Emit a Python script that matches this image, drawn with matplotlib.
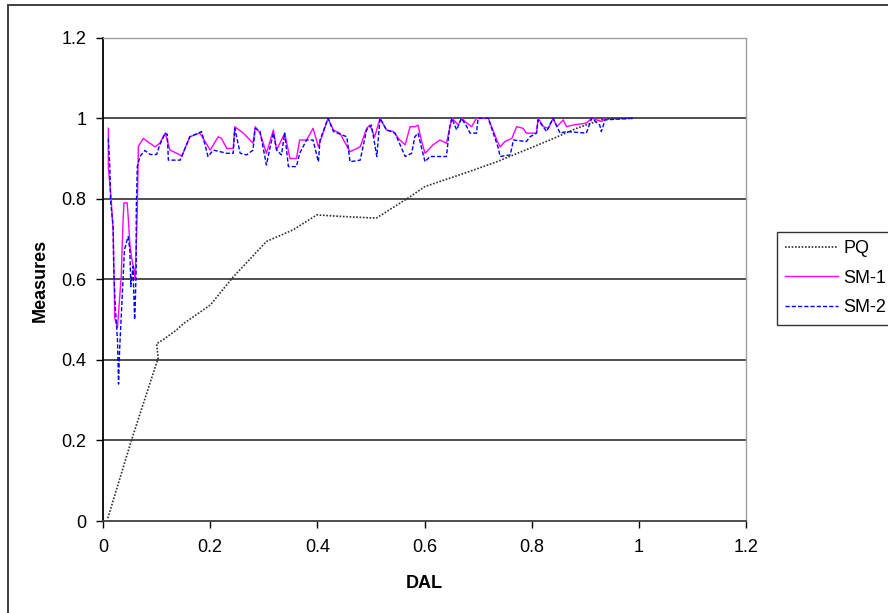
import matplotlib
matplotlib.use("Agg")
import matplotlib.pyplot as plt
from matplotlib.patches import Rectangle

plt.rcParams['font.family'] = ['Liberation Sans', 'DejaVu Sans']

# PQ curve (black dotted)
pq_x = [0.009, 0.053, 0.103, 0.100, 0.112, 0.137, 0.150, 0.200, 0.243, 0.305,
        0.355, 0.399, 0.448, 0.510, 0.573, 0.600, 0.680, 0.735, 0.834, 0.884,
        0.933, 0.990]
pq_y = [0.007, 0.200, 0.405, 0.440, 0.450, 0.474, 0.490, 0.536, 0.606, 0.694,
        0.723, 0.760, 0.756, 0.752, 0.805, 0.830, 0.866, 0.892, 0.946, 0.975,
        0.998, 1.000]

# SM-1 (magenta solid)
sm1_x = [0.010, 0.010, 0.015, 0.019, 0.022, 0.027, 0.034, 0.037, 0.039, 0.045,
         0.047, 0.050, 0.053, 0.058, 0.060, 0.064, 0.066, 0.075, 0.097, 0.106,
         0.116, 0.125, 0.144, 0.147, 0.162, 0.172, 0.181, 0.187, 0.200, 0.215,
         0.221, 0.231, 0.243, 0.246, 0.262, 0.280, 0.284, 0.293, 0.305, 0.318,
         0.324, 0.333, 0.339, 0.349, 0.361, 0.367, 0.380, 0.392, 0.402, 0.420,
         0.430, 0.442, 0.461, 0.480, 0.492, 0.498, 0.507, 0.517, 0.529, 0.542,
         0.554, 0.564, 0.573, 0.582, 0.588, 0.594, 0.601, 0.616, 0.629, 0.641,
         0.651, 0.657, 0.663, 0.669, 0.679, 0.688, 0.697, 0.719, 0.735, 0.741,
         0.750, 0.763, 0.772, 0.784, 0.790, 0.809, 0.812, 0.822, 0.831, 0.840,
         0.847, 0.859, 0.865, 0.877, 0.902, 0.912, 0.921, 0.931, 0.937]
sm1_y = [0.975, 0.877, 0.805, 0.715, 0.504, 0.480, 0.607, 0.730, 0.790, 0.790,
         0.756, 0.690, 0.656, 0.623, 0.600, 0.770, 0.930, 0.950, 0.929, 0.938,
         0.963, 0.921, 0.909, 0.905, 0.954, 0.959, 0.963, 0.950, 0.921, 0.954,
         0.950, 0.925, 0.925, 0.979, 0.963, 0.938, 0.979, 0.963, 0.913, 0.971,
         0.921, 0.946, 0.963, 0.900, 0.900, 0.946, 0.946, 0.975, 0.929, 1.000,
         0.971, 0.963, 0.917, 0.929, 0.975, 0.983, 0.954, 1.000, 0.971, 0.967,
         0.946, 0.934, 0.979, 0.979, 0.983, 0.946, 0.913, 0.934, 0.946, 0.938,
         1.000, 0.992, 0.983, 1.000, 0.988, 0.979, 1.000, 1.000, 0.946, 0.929,
         0.942, 0.950, 0.979, 0.975, 0.963, 0.963, 1.000, 0.979, 0.975, 1.000,
         0.979, 0.996, 0.979, 0.983, 0.988, 1.000, 0.996, 0.992, 1.000]

# SM-2 (blue dashed)
sm2_x = [0.010, 0.013, 0.014, 0.019, 0.020, 0.023, 0.027, 0.029, 0.031, 0.034,
         0.037, 0.040, 0.045, 0.047, 0.050, 0.052, 0.056, 0.059, 0.060, 0.062,
         0.062, 0.064, 0.069, 0.078, 0.088, 0.100, 0.106, 0.116, 0.120, 0.122,
         0.144, 0.162, 0.184, 0.196, 0.206, 0.231, 0.243, 0.246, 0.256, 0.268,
         0.280, 0.284, 0.293, 0.305, 0.312, 0.318, 0.324, 0.333, 0.339, 0.346,
         0.361, 0.367, 0.380, 0.392, 0.402, 0.405, 0.420, 0.430, 0.455, 0.461,
         0.480, 0.492, 0.501, 0.511, 0.517, 0.529, 0.545, 0.564, 0.576, 0.582,
         0.588, 0.594, 0.601, 0.610, 0.641, 0.647, 0.651, 0.660, 0.669, 0.679,
         0.685, 0.697, 0.700, 0.719, 0.738, 0.741, 0.760, 0.766, 0.790, 0.797,
         0.809, 0.812, 0.828, 0.840, 0.853, 0.865, 0.902, 0.912, 0.927, 0.930,
         0.937, 0.990]
sm2_y = [0.950, 0.872, 0.797, 0.730, 0.630, 0.530, 0.450, 0.340, 0.425, 0.507,
         0.590, 0.673, 0.698, 0.706, 0.673, 0.582, 0.632, 0.500, 0.530, 0.630,
         0.765, 0.880, 0.905, 0.920, 0.910, 0.910, 0.934, 0.963, 0.960, 0.896,
         0.896, 0.954, 0.967, 0.905, 0.921, 0.913, 0.913, 0.975, 0.913, 0.909,
         0.921, 0.975, 0.967, 0.884, 0.929, 0.963, 0.921, 0.909, 0.963, 0.880,
         0.880, 0.913, 0.946, 0.946, 0.892, 0.946, 1.000, 0.967, 0.954, 0.892,
         0.896, 0.971, 0.983, 0.905, 1.000, 0.971, 0.963, 0.905, 0.913, 0.954,
         0.963, 0.929, 0.892, 0.905, 0.905, 0.979, 1.000, 0.971, 1.000, 0.979,
         0.963, 0.963, 1.000, 1.000, 0.925, 0.905, 0.909, 0.946, 0.942, 0.954,
         0.963, 0.996, 0.967, 1.000, 0.963, 0.967, 0.963, 1.000, 0.983, 0.967,
         0.996, 1.000]

x_ticks = [0, 0.2, 0.4, 0.6, 0.8, 1, 1.2]
x_labels = ['0', '0.2', '0.4', '0.6', '0.8', '1', '1.2']
y_ticks = [0, 0.2, 0.4, 0.6, 0.8, 1, 1.2]
y_labels = ['0', '0.2', '0.4', '0.6', '0.8', '1', '1.2']

W, H = 888, 613
fig = plt.figure(figsize=(W / 100, H / 100), dpi=100)
ax = fig.add_axes([103 / W, 1 - 521 / H, (746 - 103) / W, (521 - 37.7) / H])

# outer chart border (only top and left are inside the picture)
fig.patches.append(Rectangle((8 / W, -0.05), 1.1, 1 - 5 / H + 0.05,
                             transform=fig.transFigure, fill=False,
                             edgecolor='#404040', linewidth=1.4))

for yv in y_ticks[1:-1]:
    ax.axhline(yv, color='#404040', linewidth=1.3, zorder=1)

ax.plot(pq_x, pq_y, color='#303030', linewidth=1.2, linestyle=(0, (1, 1)),
        label='PQ', zorder=3)
ax.plot(sm1_x, sm1_y, color='#FF00FF', linewidth=1.0, label='SM-1', zorder=3)
ax.plot(sm2_x, sm2_y, color='#0000FF', linewidth=1.0, linestyle=(0, (3, 1.5)),
        label='SM-2', zorder=4)

ax.set_xlim(0, 1.2)
ax.set_ylim(0, 1.2)
ax.set_xticks(x_ticks)
ax.set_xticklabels(x_labels)
ax.set_yticks(y_ticks)
ax.set_yticklabels(y_labels)
ax.tick_params(axis='both', direction='out', length=5, width=1, labelsize=13,
               colors='black')
ax.tick_params(axis='x', pad=8)
ax.tick_params(axis='y', pad=7)
for side in ['top', 'right']:
    ax.spines[side].set_color('#a0a0a0')
    ax.spines[side].set_linewidth(1.0)
ax.spines['left'].set_color('black')
ax.spines['left'].set_linewidth(1.3)
ax.spines['bottom'].set_color('#404040')
ax.spines['bottom'].set_linewidth(1.3)

fig.text(40 / W, 1 - 280 / H, 'Measures', rotation=90, ha='center',
         va='center', fontsize=13, fontweight='bold')
fig.text(424.5 / W, 1 - 583 / H, 'DAL', ha='center', va='center',
         fontsize=13, fontweight='bold')

leg = fig.legend(loc='upper left', bbox_to_anchor=(777 / W, 1 - 232 / H),
                 bbox_transform=fig.transFigure, borderaxespad=0,
                 fontsize=13, frameon=True, fancybox=False, handlelength=2.95,
                 handletextpad=0.28, borderpad=0.45, labelspacing=0.7)
leg.get_frame().set_edgecolor('black')
leg.get_frame().set_linewidth(1.0)

fig.savefig('out.png', dpi=100)
